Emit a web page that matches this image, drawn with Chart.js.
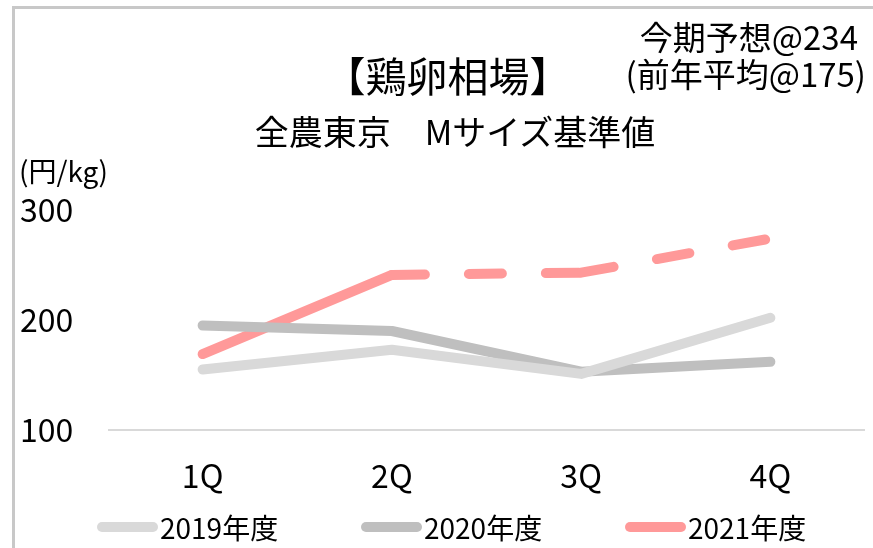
<!DOCTYPE html>
<html>
<head>
<meta charset="utf-8">
<script src="https://cdn.jsdelivr.net/npm/chart.js@4.4.1/dist/chart.umd.min.js"></script>
<style>
  body { margin: 0; background: #fff; font-family: "Noto Sans CJK JP", sans-serif; }
  #wrap { position: relative; width: 873px; height: 548px; overflow: hidden; }
  #frame { position: absolute; left: 12px; top: 6px; width: 900px; height: 600px; border: 3px solid #c8c8c8; box-sizing: border-box; }
  .txt { position: absolute; color: #000; white-space: nowrap; line-height: 1; }
  #title { left: 0; width: 895px; top: 54px; font-size: 41px; text-align: center; }
  #sub { left: 0; width: 910px; top: 114px; font-size: 34px; text-align: center; }
  #fc1 { right: 15px; top: 20px; font-size: 33px; }
  #fc2 { right: 7px; top: 57px; font-size: 33px; }
  #unit { left: 19px; top: 156px; font-size: 28px; }
  #legend { position: absolute; left: 97px; top: 510px; display: flex; }
  .item { width: 264px; display: flex; align-items: center; font-size: 28px; line-height: 34px; }
  .box { width: 61px; height: 10px; border-radius: 5px; margin-right: 2px; }
  canvas { position: absolute; left: 0; top: 0; }
</style>
</head>
<body>
<div id="wrap">
  <div id="frame"></div>
  <canvas id="myChart" width="873" height="548"></canvas>
  <div class="txt" id="title">【鶏卵相場】</div>
  <div class="txt" id="sub">全農東京　Mサイズ基準値</div>
  <div class="txt" id="fc1">今期予想@234</div>
  <div class="txt" id="fc2">(前年平均@175)</div>
  <div class="txt" id="unit">(円/kg)</div>
  <div id="legend"></div>
</div>
<script>
const quarters = ['1Q', '2Q', '3Q', '4Q']
const fy2019 = [155, 173, 151, 202]
const fy2020 = [195, 190, 153, 162]
const fy2021 = [169, 241, 243, 274]
const yTicks = [100, 200, 300]

const font = 'Noto Sans CJK JP'

var ctx = document.getElementById('myChart').getContext('2d');
var myChart = new Chart(ctx, {
    type: 'line',
    data: {
        labels: quarters,
        datasets: [{
            label: '2019年度',
            data: fy2019,
            borderColor: '#d9d9d9',
            backgroundColor: '#d9d9d9',
        }, {
            label: '2020年度',
            data: fy2020,
            borderColor: '#bfbfbf',
            backgroundColor: '#bfbfbf',
        }, {
            label: '2021年度',
            data: fy2021,
            borderColor: '#ff9999',
            backgroundColor: '#ff9999',
            // forecast part after 2Q is dashed, dash restarts at every point
            segment: {
                borderDash: c => c.p0DataIndex >= 1 ? [33, 44] : undefined,
                borderDashOffset: c => c.p0DataIndex * 0.001
            }
        }]
    },
    options: {
        responsive: false,
        animation: false,
        layout: { padding: { left: 20, right: 8, top: 210, bottom: 41 } },
        elements: {
            line: { borderWidth: 10, borderCapStyle: 'round', borderJoinStyle: 'round', tension: 0 },
            point: { radius: 0, hoverRadius: 0 }
        },
        scales: {
            x: {
                offset: true,
                afterFit: s => { s.height = 77 },
                grid: { display: false },
                border: { display: false },
                ticks: { color: '#000', padding: 19, font: { family: font, size: 32 } }
            },
            y: {
                min: 100,
                max: 300,
                afterFit: s => { s.width = 88 },
                afterBuildTicks: s => { s.ticks = yTicks.map(v => ({ value: v })) },
                grid: {
                    drawTicks: false,
                    color: c => c.tick.value === 100 ? '#d9d9d9' : 'rgba(0,0,0,0)',
                    lineWidth: 2
                },
                border: { display: false },
                ticks: { color: '#000', crossAlign: 'far', padding: 0, font: { family: font, size: 32 } }
            }
        },
        plugins: {
            legend: { display: false },
            tooltip: { enabled: false }
        }
    }
});

// legend built from the datasets
const lg = document.getElementById('legend')
myChart.data.datasets.forEach(ds => {
    const it = document.createElement('div')
    it.className = 'item'
    it.innerHTML = '<span class="box" style="background:' + ds.borderColor + '"></span>' + ds.label
    lg.appendChild(it)
})
</script>
</body>
</html>
